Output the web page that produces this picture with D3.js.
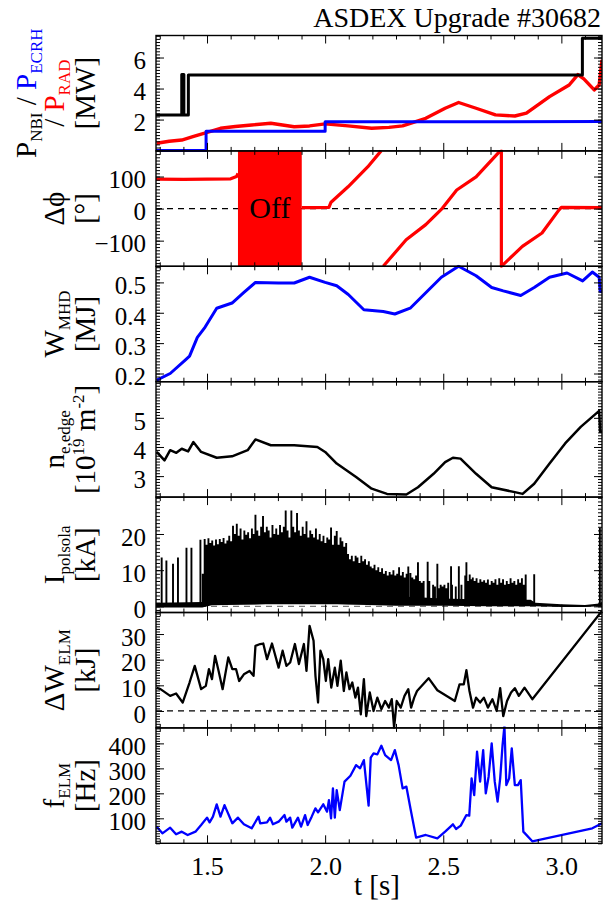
<!DOCTYPE html>
<html>
<head>
<meta charset="utf-8">
<script src="https://cdn.jsdelivr.net/npm/d3@7"></script>
<style>
body { margin: 0; background: #fff; }
text { font-family: "Liberation Serif", "DejaVu Serif", serif; }
</style>
</head>
<body>
<div id="chart"></div>
<script>
// ASDEX Upgrade #30682 - stacked time traces

// time axis
const tRange = [1.284, 3.172];
const tMajor = [1.5, 2.0, 2.5, 3.0];
const tMinor = [1.3, 1.4, 1.6, 1.7, 1.8, 1.9, 2.1, 2.2, 2.3, 2.4, 2.6, 2.7, 2.8, 2.9, 3.1];

// panel y ranges and ticks (top to bottom)
const yDomains = [[-0.02, 7.42], [-180, 180], [0.173, 0.553], [2.28, 6.24], [-1.7, 30.2], [-6.6, 38.4], [0, 462]];
const yTicks = [[2, 4, 6], [-100, 0, 100], [0.2, 0.3, 0.4, 0.5], [3, 4, 5], [0, 10, 20], [0, 10, 20, 30], [100, 200, 300, 400]];
const yMinorStep = [0.2, 10, 0.01, 0.1, 1, 1, 10];

// heating / radiated power [MW]
const pNBI = [[1.284,2.3],[1.393,2.3],[1.393,4.9],[1.402,4.9],[1.402,2.3],[1.421,2.3],[1.421,4.88],[3.089,4.88],[3.089,7.25],[3.172,7.25]];
const pECRH = [[1.284,0],[1.496,0],[1.496,1.24],[2.0,1.24],[2.0,1.86],[3.172,1.87]];
const pRAD = [[1.287,0.47],[1.34,0.6],[1.393,0.68],[1.44,0.9],[1.49,1.12],[1.557,1.44],[1.62,1.55],[1.689,1.65],[1.77,1.76],[1.869,1.54],[1.934,1.59],[2.0,1.72],[2.097,1.59],[2.197,1.44],[2.27,1.5],[2.328,1.59],[2.426,2.08],[2.508,2.73],[2.565,3.1],[2.639,2.73],[2.721,2.3],[2.803,2.23],[2.852,2.41],[2.95,3.48],[3.033,4.23],[3.07,4.9],[3.095,4.62],[3.139,3.91],[3.16,4.23],[3.172,5.85]];

// relative phase [deg]; null = gap
const dPhi = [[1.284,92],[1.40,91],[1.50,92],[1.60,93],[1.625,100],[1.631,110],null,
  [1.901,3],[1.95,3],[2.016,4],[2.025,20],[2.097,68],[2.18,130],[2.237,180],null,
  [2.246,-180],[2.343,-97],[2.426,-50],[2.496,1],[2.557,58],[2.639,99],[2.737,177],[2.746,180],[2.746,-180],
  [2.835,-118],[2.918,-76],[2.99,-4],[3.0,4],[3.172,3]];
const phiOff = [1.631, 1.901];

// stored energy [MJ]
const wMHD = [[1.287,0.178],[1.344,0.2],[1.41,0.246],[1.426,0.257],[1.459,0.319],[1.492,0.353],[1.541,0.415],[1.606,0.432],[1.655,0.466],[1.705,0.5],[1.803,0.498],[1.869,0.498],[1.934,0.517],[2.0,0.5],[2.049,0.489],[2.098,0.46],[2.164,0.41],[2.246,0.404],[2.295,0.396],[2.36,0.415],[2.426,0.466],[2.492,0.517],[2.565,0.553],[2.639,0.522],[2.705,0.483],[2.754,0.472],[2.828,0.457],[2.885,0.483],[2.95,0.517],[3.024,0.531],[3.09,0.505],[3.131,0.534],[3.16,0.517],[3.164,0.47],[3.172,0.47]];

// edge density [1e19 m^-2]
const neEdge = [[1.287,3.83],[1.32,3.54],[1.344,3.89],[1.37,3.8],[1.393,3.94],[1.42,3.85],[1.442,4.17],[1.475,3.83],[1.541,3.63],[1.606,3.68],[1.672,3.89],[1.705,4.26],[1.77,4.06],[1.869,4.06],[1.967,4.0],[2.0,3.83],[2.049,3.43],[2.131,2.97],[2.197,2.57],[2.262,2.39],[2.344,2.37],[2.393,2.62],[2.459,3.08],[2.508,3.48],[2.541,3.63],[2.573,3.6],[2.639,3.08],[2.705,2.62],[2.803,2.45],[2.836,2.39],[2.885,2.74],[2.95,3.43],[3.016,4.12],[3.082,4.69],[3.16,5.24],[3.164,4.52],[3.172,4.52]];

// divertor current [kA]: baseline band and ELM spikes
const polBandT = [1.284, 1.48, 1.52, 1.7, 1.87, 2.0, 2.1, 2.3, 2.5, 2.7, 2.87, 2.89, 3.0, 3.1, 3.16, 3.172];
const polBandLo = [-0.3, -0.3, 0.3, 0.5, 1.0, 0.8, 0.5, 0.2, 0.2, 0, 0, 0, -0.2, -0.2, 0, 0.2];
const polBandHi = [1.0, 1.2, 2.8, 3.3, 4.0, 3.7, 3.4, 2.8, 2.2, 1.8, 1.8, 1.0, 0.6, 0.4, 0.8, 1.2];
const polSpikes = [[1.308,13.5],[1.328,12.7],[1.356,11.8],[1.377,13.5],[1.413,16.2],[1.434,16.2],[1.472,18.4],
  [1.482,9],[1.490,18.6],[1.498,17],[1.506,18.8],[1.514,17.5],[1.522,18.2],[1.530,16.8],[1.538,18.5],[1.546,17.2],[1.554,18.6],[1.562,17.8],[1.570,18.9],[1.578,17.4],[1.586,18.2],[1.594,19.5],[1.602,18],
  [1.610,22.3],[1.618,20],[1.626,22.8],[1.634,19.5],[1.642,21.5],[1.650,18.5],[1.658,21],[1.666,19.8],[1.674,20.5],[1.682,18.8],[1.690,21.5],[1.698,20],[1.705,25.3],[1.713,21],[1.721,19.5],[1.729,22],[1.737,25],[1.745,20.5],[1.753,22],[1.761,21],[1.769,19],[1.777,22.5],[1.785,20],[1.793,21.5],[1.801,19.8],[1.809,22.5],[1.817,20.5],[1.825,22],[1.833,26.5],[1.841,21],[1.849,19],[1.857,26.5],[1.865,22],[1.873,20.5],[1.881,25.8],[1.889,21],[1.897,19.5],[1.905,22],[1.913,20],[1.921,23.5],[1.929,19],[1.937,21],[1.945,20],[1.953,19],[1.961,21.5],[1.969,18.5],[1.977,20],[1.985,18],[1.993,19.5],[2.001,17.5],[2.009,19],[2.017,18.5],[2.025,21.8],[2.033,17],[2.041,19.5],[2.049,20.8],[2.057,17],[2.065,19],[2.073,18],[2.081,16.5],[2.089,17.5],
  [2.097,14.5],[2.105,13],[2.113,14],[2.121,12.5],[2.129,14],[2.137,13.5],[2.145,12],[2.153,14],[2.161,12.5],[2.169,13],[2.177,11.5],[2.185,12.5],[2.193,11],[2.201,10.5],[2.209,11.5],[2.217,10],[2.225,10.8],[2.233,9.5],[2.241,10.5],[2.249,9],[2.257,9.8],[2.265,8.5],[2.273,9.5],[2.281,8.8],[2.289,10],[2.297,8.5],[2.305,9],[2.313,10.8],[2.321,8.5],[2.329,9.5],[2.337,8],[2.345,9],[2.352,11],[2.361,9.2],[2.369,8],[2.377,7.5],[2.385,8.5],[2.393,12.2],[2.401,7],[2.409,6.5],[2.417,7],[2.434,12.3],[2.441,7],[2.457,6],[2.465,5.5],[2.475,11.8],[2.481,5],[2.489,6],[2.497,5.5],[2.505,6],[2.513,5],[2.521,6.5],[2.533,11.1],[2.537,6],[2.553,5.5],[2.566,11.1],[2.577,6],[2.598,12.2],[2.593,8.5],[2.605,7],[2.612,8.8],[2.617,7.5],[2.625,8],[2.633,7],[2.641,7.8],[2.649,6.5],[2.657,7.5],[2.665,6.8],[2.673,7.2],[2.681,6.5],[2.689,7.4],[2.697,6],[2.705,7],[2.713,6.5],[2.721,7.5],[2.729,6],[2.737,7.8],[2.745,6.5],[2.753,7.5],[2.761,6],[2.769,7],[2.777,6.2],[2.785,7.8],[2.793,6.5],[2.801,7],[2.809,6],[2.817,7.5],[2.825,6.5],[2.833,7.8],[2.841,6],[2.849,8.8],[2.885,8.9],
  [3.163,21.8]];

// ELM energy loss [kJ]
const dWELM = [[1.287,9],[1.303,8.5],[1.344,5.9],[1.369,6.8],[1.397,3.3],[1.426,11.1],[1.448,17.6],[1.475,8.5],[1.495,9.8],[1.508,16.3],[1.521,12.4],[1.534,21.5],[1.549,15.6],[1.566,8.5],[1.59,20.9],[1.607,16.3],[1.623,16.3],[1.636,11.7],[1.656,14.3],[1.68,15.6],[1.697,13.7],[1.705,25.4],[1.725,26.1],[1.738,26.3],[1.754,20.2],[1.775,26.3],[1.803,16.9],[1.82,23.5],[1.836,17.6],[1.852,18.9],[1.872,26.1],[1.889,18.3],[1.91,26.1],[1.921,15.6],[1.934,33.2],[1.951,27.4],[1.959,13.7],[1.97,3.3],[1.98,23.5],[1.992,20.2],[2.003,11.7],[2.013,20.2],[2.026,9.1],[2.041,16.9],[2.052,9.8],[2.066,19.6],[2.079,7.8],[2.09,15.0],[2.103,8.5],[2.115,11.1],[2.128,5.2],[2.139,9.1],[2.151,-1.3],[2.164,12.4],[2.174,-2.0],[2.189,7.2],[2.205,0],[2.221,5.2],[2.238,0.7],[2.254,3.9],[2.27,1.3],[2.282,4.6],[2.292,-6.5],[2.303,3.9],[2.32,1.3],[2.336,5.9],[2.352,8.5],[2.364,1.3],[2.377,5.2],[2.389,7.8],[2.438,12.8],[2.475,8.1],[2.549,3.9],[2.569,10.4],[2.587,10.4],[2.598,15.9],[2.611,7.8],[2.626,1.3],[2.639,5.2],[2.656,3.3],[2.672,5.2],[2.689,1.3],[2.708,4.6],[2.726,0],[2.741,8.9],[2.754,-2.0],[2.77,3.9],[2.787,7.2],[2.803,8.9],[2.82,5.9],[2.844,9.1],[2.877,4.6],[3.172,39]];

// ELM frequency [Hz]
const fELM = [[1.287,66.7],[1.311,40],[1.344,62.7],[1.369,36],[1.393,46.7],[1.418,33.3],[1.451,46.7],[1.475,73.3],[1.5,102.7],[1.511,84],[1.525,106.7],[1.541,156],[1.557,106.7],[1.574,153],[1.607,80],[1.631,102.7],[1.656,76],[1.689,60],[1.718,106.7],[1.725,80],[1.754,84],[1.767,102.7],[1.779,76],[1.803,86.7],[1.828,113],[1.836,86.7],[1.852,102.7],[1.861,62.7],[1.885,102.7],[1.898,66.7],[1.915,113],[1.926,73.3],[1.943,106.7],[1.959,140],[1.97,124],[1.992,156],[2.008,126.7],[2.016,173],[2.025,100],[2.033,220],[2.041,102.7],[2.049,213],[2.062,133],[2.082,246.7],[2.107,270.7],[2.131,313],[2.148,300],[2.164,333],[2.184,150.7],[2.193,342.7],[2.205,360],[2.221,356],[2.238,390.7],[2.254,353],[2.279,333],[2.295,373],[2.311,313],[2.328,220],[2.344,226.7],[2.361,140],[2.385,22.7],[2.426,33.3],[2.475,20],[2.508,46.7],[2.541,76],[2.554,57.3],[2.574,70.7],[2.598,113],[2.61,110.7],[2.62,260],[2.631,193],[2.643,366.7],[2.656,246.7],[2.669,373],[2.68,200],[2.692,266.7],[2.705,400],[2.718,246.7],[2.73,166.7],[2.741,260],[2.751,393],[2.759,470],[2.767,233],[2.779,260],[2.79,380],[2.803,233],[2.816,233],[2.828,253],[2.839,46.7],[2.877,8],[3.131,60],[3.164,76],[3.172,80]];

const BLUE = "#0000ff", RED = "#ff0000";

const width = 605, height = 907;
const left = 156, right = 602, top0 = 35.5, ph = 115.4;

const svg = d3.select("#chart").append("svg")
  .attr("width", width).attr("height", height);

const x = d3.scaleLinear().domain(tRange).range([left, right]);

const ys = yDomains.map((dom, i) => d3.scaleLinear().domain(dom).range([top0 + (i + 1) * ph, top0 + i * ph]));

// clip each panel
const defs = svg.append("defs");
ys.forEach((y, i) => {
  defs.append("clipPath").attr("id", "clip" + i)
    .append("rect").attr("x", left).attr("y", top0 + i * ph - 1.5)
    .attr("width", right - left).attr("height", ph + 3);
});

const plotG = ys.map((y, i) => svg.append("g").attr("clip-path", `url(#clip${i})`));

function drawLine(i, data, color, w) {
  const y = ys[i];
  const line = d3.line().defined(d => d != null).x(d => x(d[0])).y(d => y(d[1]));
  plotG[i].append("path").datum(data)
    .attr("fill", "none").attr("stroke", color).attr("stroke-width", w)
    .attr("stroke-linejoin", "round").attr("d", line);
}

function zeroLine(i, color) {
  plotG[i].append("line")
    .attr("x1", left).attr("x2", right)
    .attr("y1", ys[i](0)).attr("y2", ys[i](0))
    .attr("stroke", color).attr("stroke-width", 1.2).attr("stroke-dasharray", "6,5");
}

// panel 0: powers
drawLine(0, pRAD, RED, 3.4);
drawLine(0, pECRH, BLUE, 3);
drawLine(0, pNBI, "#000", 3);

// panel 1: phase
zeroLine(1, "#000");
plotG[1].append("rect")
  .attr("x", x(phiOff[0])).attr("width", x(phiOff[1]) - x(phiOff[0]))
  .attr("y", ys[1](180)).attr("height", ys[1](-180) - ys[1](180))
  .attr("fill", RED);
drawLine(1, dPhi, RED, 3.2);
svg.append("text").attr("x", (x(phiOff[0]) + x(phiOff[1])) / 2).attr("y", ys[1](0) + 9)
  .attr("text-anchor", "middle").attr("font-size", 30).text("Off");

// panel 2: W_MHD
drawLine(2, wMHD, BLUE, 3);

// panel 3: edge density
drawLine(3, neEdge, "#000", 2.5);

// panel 4: I_polsola
zeroLine(4, "#777");
const band = d3.area()
  .x((d, k) => x(polBandT[k]))
  .y0((d, k) => ys[4](polBandLo[k]))
  .y1((d, k) => ys[4](polBandHi[k]));
plotG[4].append("path").datum(polBandT).attr("fill", "#000").attr("d", band);
plotG[4].append("path")
  .attr("d", polSpikes.map(d => `M${x(d[0])},${ys[4](0.6)}V${ys[4](d[1])}`).join(""))
  .attr("stroke", "#000").attr("stroke-width", 1.9).attr("fill", "none");

// panel 5: dW_ELM
zeroLine(5, "#000");
drawLine(5, dWELM, "#000", 2.3);

// panel 6: f_ELM
drawLine(6, fELM, BLUE, 2.3);

// axes and frames
ys.forEach((y, i) => {
  const pTop = top0 + i * ph, pBot = pTop + ph;
  const g = svg.append("g");
  const dom = yDomains[i];
  const minor = d3.range(Math.ceil(dom[0] / yMinorStep[i]), Math.floor(dom[1] / yMinorStep[i]) + 1)
    .map(k => +(k * yMinorStep[i]).toFixed(4));
  const fmt = i === 2 ? d3.format(".1f") : d3.format("d");

  const la = g.append("g").attr("transform", `translate(${left},0)`)
    .call(d3.axisLeft(y).tickValues(yTicks[i]).tickSize(-8).tickPadding(10).tickFormat(fmt));
  la.selectAll("text").attr("font-size", 25).attr("dy", "0.45em")
    .style("font-family", "Liberation Serif, serif").attr("fill", "#000");
  g.append("g").attr("transform", `translate(${left},0)`)
    .call(d3.axisLeft(y).tickValues(minor).tickSize(-4).tickFormat(""));
  g.append("g").attr("transform", `translate(${right},0)`)
    .call(d3.axisRight(y).tickValues(yTicks[i]).tickSize(-8).tickFormat(""));
  g.append("g").attr("transform", `translate(${right},0)`)
    .call(d3.axisRight(y).tickValues(minor).tickSize(-4).tickFormat(""));

  g.append("g").attr("transform", `translate(0,${pTop})`)
    .call(d3.axisTop(x).tickValues(tMajor).tickSize(-8).tickFormat(""));
  g.append("g").attr("transform", `translate(0,${pTop})`)
    .call(d3.axisTop(x).tickValues(tMinor).tickSize(-4).tickFormat(""));
  const bx = g.append("g").attr("transform", `translate(0,${pBot})`)
    .call(d3.axisBottom(x).tickValues(tMajor).tickSize(-8).tickPadding(12)
      .tickFormat(i === ys.length - 1 ? d3.format(".1f") : ""));
  bx.selectAll("text").attr("font-size", 26).attr("dy", "0.75em")
    .style("font-family", "Liberation Serif, serif").attr("fill", "#000");
  g.append("g").attr("transform", `translate(0,${pBot})`)
    .call(d3.axisBottom(x).tickValues(tMinor).tickSize(-4).tickFormat(""));

  g.selectAll(".domain").remove();
  g.selectAll(".tick line").attr("stroke", "#000").attr("stroke-width", 1);

  svg.append("rect").attr("x", left).attr("y", pTop).attr("width", right - left).attr("height", ph)
    .attr("fill", "none").attr("stroke", "#000").attr("stroke-width", 1.4);
});

// y axis titles (rotated, with sub/superscripts)
const titles = [
  [[36, [["P"], ["NBI", 0, "sub"], [" / "], ["P", BLUE], ["ECRH", BLUE, "sub"]]],
   [64, [["/ "], ["P", RED], ["RAD", RED, "sub"]]],
   [95, [["[MW]"]]]],
  [[64, [["\u0394\u03d5"]]], [95, [["[\u00b0]"]]]],
  [[64, [["W"], ["MHD", 0, "sub"]]], [95, [["[MJ]"]]]],
  [[64, [["n"], ["e,edge", 0, "sub"]]], [95, [["[10"], ["19", 0, "sup"], [" m"], ["-2", 0, "sup"], ["]"]]]],
  [[64, [["I"], ["polsola", 0, "sub"]]], [95, [["[kA]"]]]],
  [[64, [["\u0394W"], ["ELM", 0, "sub"]]], [95, [["[kJ]"]]]],
  [[64, [["f"], ["ELM", 0, "sub"]]], [95, [["[Hz]"]]]]
];

titles.forEach((lines, i) => {
  const cy = top0 + i * ph + ph / 2;
  lines.forEach(([bx, parts]) => {
    const t = svg.append("g").attr("transform", `translate(${bx},${cy}) rotate(-90)`)
      .append("text").attr("text-anchor", "middle").attr("font-size", 29);
    let shift = 0;
    parts.forEach(([s, col, kind]) => {
      const target = kind === "sub" ? 6 : kind === "sup" ? -11 : 0;
      t.append("tspan").text(s)
        .attr("dy", target - shift)
        .attr("font-size", kind ? 17 : 29)
        .attr("fill", col || "#000");
      shift = target;
    });
  });
});

// x label and title
svg.append("text").attr("x", (left + right) / 2 - 2).attr("y", 895)
  .attr("text-anchor", "middle").attr("font-size", 29).text("t [s]");
svg.append("text").attr("x", 601).attr("y", 27)
  .attr("text-anchor", "end").attr("font-size", 28).text("ASDEX Upgrade #30682");
</script>
</body>
</html>
